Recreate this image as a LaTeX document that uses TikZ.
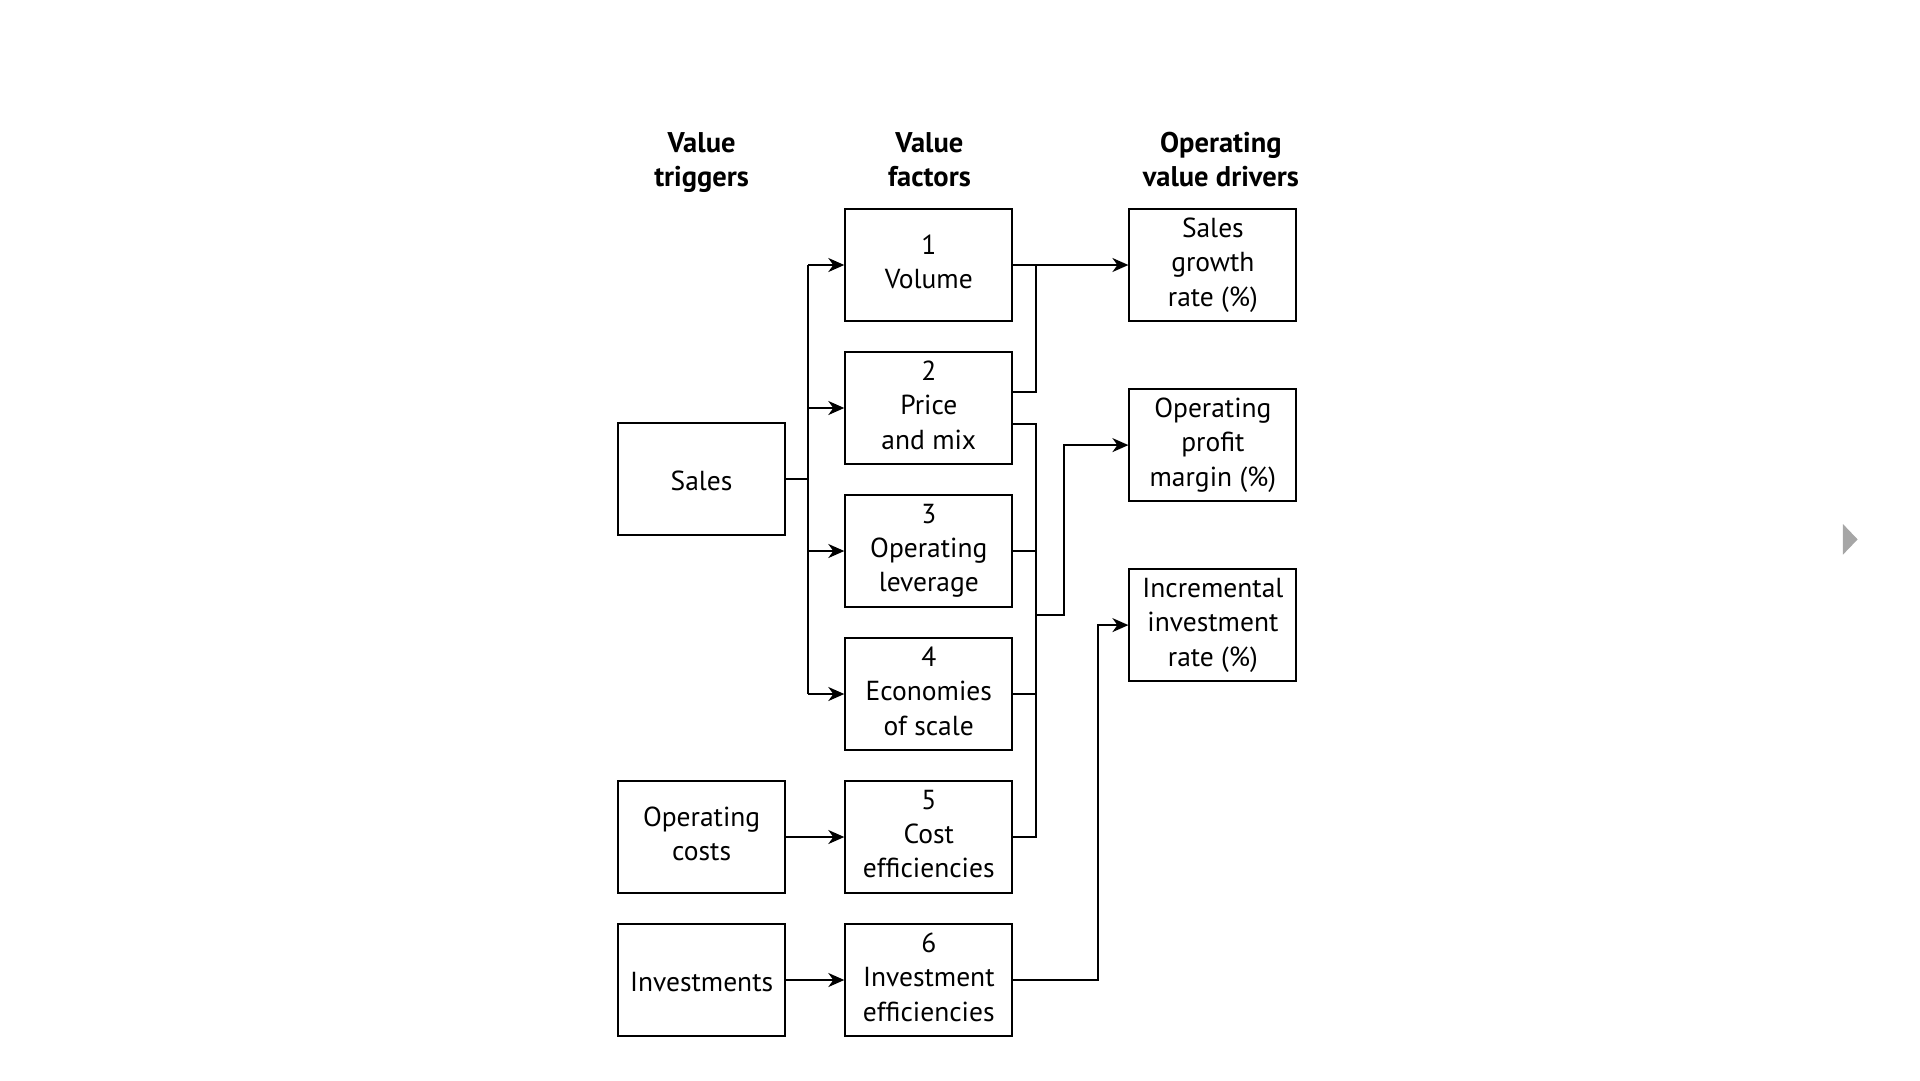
\documentclass[tikz,border=0pt]{standalone}
\usepackage{fontspec}
\setmainfont{PT Sans}
\usetikzlibrary{arrows.meta,calc}
\newcommand\boxstrut{\rule[-6pt]{0pt}{34.3pt}}
\begin{document}
\begin{tikzpicture}[x=1pt,y=-1pt,
 box/.style={draw,line width=2pt,minimum width=167pt,minimum height=112pt,align=center,font=\fontsize{27.5}{34.3}\selectfont,inner sep=0pt,execute at begin node=\boxstrut,execute at end node=\boxstrut},
 head/.style={align=center,font=\fontsize{28.5}{34.3}\selectfont\bfseries,execute at begin node=\boxstrut,execute at end node=\boxstrut},
 conn/.style={line width=2pt},
 arr/.style={conn,-{Stealth[length=16pt,width=14pt,inset=5pt]}}]
\useasboundingbox (0,0) rectangle (1920,1080);
% headers
\node[head] (h1) at (701.6,162.5) {Value\\triggers};
\node[head] (h2) at (929.4,162.5) {Value\\factors};
\node[head] (h3) at (1220.8,162.5) {Operating\\value drivers};
% left column
\node[box] (sales) at (701.6,479) {Sales};
\node[box] (oc) at (701.6,837) {Operating\\costs};
\node[box] (inv) at (701.6,980) {Investments};
% middle column
\node[box] (f1) at (928.8,265) {1\\Volume};
\node[box] (f2) at (928.8,408) {2\\Price\\and mix};
\node[box] (f3) at (928.8,551) {3\\Operating\\leverage};
\node[box] (f4) at (928.8,694) {4\\Economies\\of scale};
\node[box] (f5) at (928.8,837) {5\\Cost\\efficiencies};
\node[box] (f6) at (928.8,980) {6\\Investment\\efficiencies};
% right column
\node[box] (d1) at (1212.9,265) {Sales\\growth\\rate (\%)};
\node[box] (d2) at (1212.9,445.1) {Operating\\profit\\margin (\%)};
\node[box] (d3) at (1212.9,625.1) {Incremental\\investment\\rate (\%)};
% coordinates
\coordinate (trunk) at (808.2,0);
\coordinate (j1) at (1035.9,0);
\coordinate (m) at (1035.9,614.7);
\coordinate (m2) at (1064.1,614.7);
\coordinate (k) at (1098.4,0);
\coordinate (f2u) at ($(f2.east)+(0,-16)$);
\coordinate (f2d) at ($(f2.east)+(0,16)$);
% sales fan-out
\draw[conn] (sales.east) -- (trunk |- sales.east);
\draw[conn] (trunk |- f1.west) -- (trunk |- f4.west);
\draw[arr] (trunk |- f1.west) -- (f1.west);
\draw[arr] (trunk |- f2.west) -- (f2.west);
\draw[arr] (trunk |- f3.west) -- (f3.west);
\draw[arr] (trunk |- f4.west) -- (f4.west);
\draw[arr] (oc.east) -- (f5.west);
\draw[arr] (inv.east) -- (f6.west);
% to drivers
\draw[arr] (f1.east) -- (d1.west);
\draw[conn] (f2u) -- (j1 |- f2u) -- (j1 |- f1.east);
\draw[conn] (f2d) -- (j1 |- f2d) -- (j1 |- f5.east) -- (f5.east);
\draw[conn] (f3.east) -- (j1 |- f3.east);
\draw[conn] (f4.east) -- (j1 |- f4.east);
\draw[arr] (m) -- (m2) -- (m2 |- d2.west) -- (d2.west);
\draw[arr] (f6.east) -- (k |- f6.east) -- (k |- d3.west) -- (d3.west);
% next marker
\fill[gray!70] (1842.9,524) -- (1842.9,554.7) -- (1857.6,539.4) -- cycle;
\end{tikzpicture}
\end{document}
